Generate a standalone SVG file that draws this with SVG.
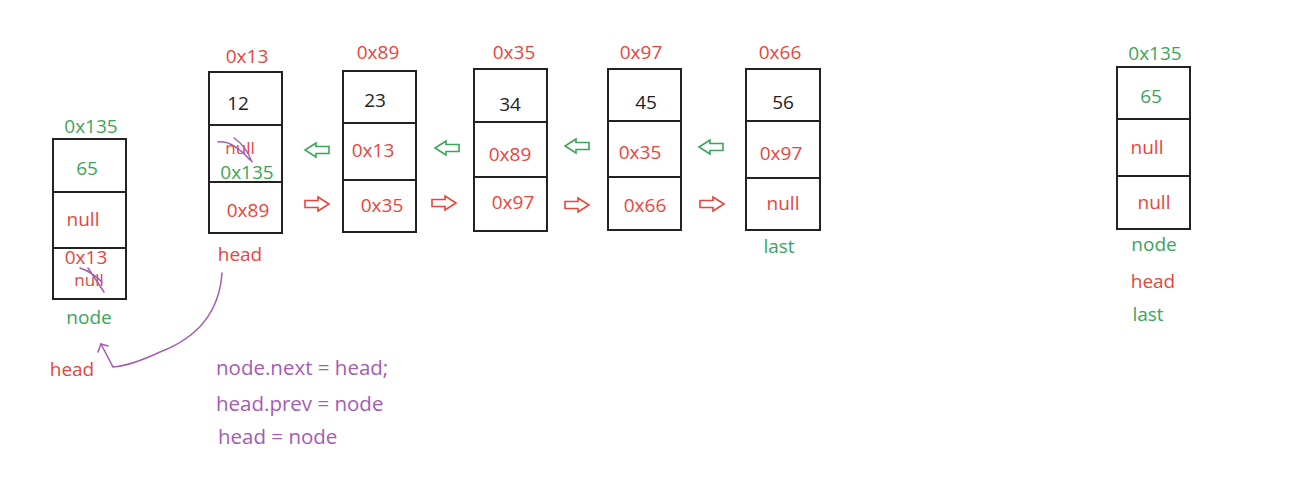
<svg xmlns="http://www.w3.org/2000/svg" width="1294" height="482" viewBox="0 0 1294 482">
<style>
text{font-family:"Open Sans","Noto Sans","Liberation Sans",sans-serif;font-size:19px;text-anchor:middle;dominant-baseline:central}
.box{fill:#fff;stroke:#222;stroke-width:2}
.div{stroke:#222;stroke-width:2}
.r{fill:#e8453c}.g{fill:#3aa55a}.k{fill:#222}.p{fill:#a45bb4;text-anchor:start;font-size:20.5px}
.sm{font-size:17px}
.ra{fill:none;stroke:#e8453c;stroke-width:1.6}
.ga{fill:none;stroke:#3aa55a;stroke-width:1.6}
.sc{fill:none;stroke:#a45bb4;stroke-width:1.5;stroke-linecap:round}
</style>
<defs>
<path id="rarrow" d="M-12,-3.5 H1 V-7 L12,0 L1,7 V3.5 H-12 Z"/>
<path id="larrow" d="M12,-3.5 H-1 V-7 L-12,0 L-1,7 V3.5 H12 Z"/>
</defs>
<g id="newnode">
<rect class="box" x="53" y="139" width="73" height="160"/>
<line class="div" x1="53" y1="192" x2="126" y2="192"/>
<line class="div" x1="53" y1="248" x2="126" y2="248"/>
<text class="g" x="91" y="126">0x135</text>
<text class="g" x="87" y="168">65</text>
<text class="r" x="83" y="219">null</text>
<text class="r sm" x="89" y="279">null</text>
<text class="r" x="86" y="257">0x13</text>
<path class="sc" d="M80,268 Q92,272 102,282 M88,268 L104,292"/>
<text class="g" x="89" y="317">node</text>
<text class="r" x="72" y="369">head</text>
</g>
<g id="n13">
<rect class="box" x="209" y="72" width="73" height="161"/>
<line class="div" x1="209" y1="125" x2="282" y2="125"/>
<line class="div" x1="209" y1="182" x2="282" y2="182"/>
<text class="r" x="247" y="56">0x13</text>
<text class="k" x="238" y="103">12</text>
<text class="r sm" x="240" y="147">null</text>
<path class="sc" d="M218,142 Q232,140 250,160 M234,138 Q246,146 252,162"/>
<text class="g" x="247" y="172">0x135</text>
<text class="r" x="248" y="210">0x89</text>
<text class="r" x="240" y="254">head</text>
</g>
<g id="n89">
<rect class="box" x="343" y="71" width="73" height="161"/>
<line class="div" x1="343" y1="123" x2="416" y2="123"/>
<line class="div" x1="343" y1="180" x2="416" y2="180"/>
<text class="r" x="378" y="52">0x89</text>
<text class="k" x="375" y="100">23</text>
<text class="r" x="373" y="150">0x13</text>
<text class="r" x="382" y="205">0x35</text>
</g>
<g id="n35">
<rect class="box" x="474" y="69" width="73" height="162"/>
<line class="div" x1="474" y1="122" x2="547" y2="122"/>
<line class="div" x1="474" y1="177" x2="547" y2="177"/>
<text class="r" x="514" y="52">0x35</text>
<text class="k" x="510" y="104">34</text>
<text class="r" x="510" y="154">0x89</text>
<text class="r" x="513" y="202">0x97</text>
</g>
<g id="n97">
<rect class="box" x="608" y="69" width="73" height="161"/>
<line class="div" x1="608" y1="121" x2="681" y2="121"/>
<line class="div" x1="608" y1="177" x2="681" y2="177"/>
<text class="r" x="641" y="52">0x97</text>
<text class="k" x="646" y="102">45</text>
<text class="r" x="640" y="152">0x35</text>
<text class="r" x="645" y="205">0x66</text>
</g>
<g id="n66">
<rect class="box" x="746" y="69" width="74" height="161"/>
<line class="div" x1="746" y1="121" x2="820" y2="121"/>
<line class="div" x1="746" y1="178" x2="820" y2="178"/>
<text class="r" x="780" y="52">0x66</text>
<text class="k" x="783" y="102">56</text>
<text class="r" x="781" y="153">0x97</text>
<text class="r" x="783" y="203">null</text>
<text class="g" x="779" y="246">last</text>
</g>
<g id="result">
<rect class="box" x="1117" y="67" width="73" height="162"/>
<line class="div" x1="1117" y1="119" x2="1190" y2="119"/>
<line class="div" x1="1117" y1="176" x2="1190" y2="176"/>
<text class="g" x="1155" y="53">0x135</text>
<text class="g" x="1151" y="96">65</text>
<text class="r" x="1147" y="147">null</text>
<text class="r" x="1154" y="202">null</text>
<text class="g" x="1154" y="244">node</text>
<text class="r" x="1153" y="281">head</text>
<text class="g" x="1148" y="314">last</text>
</g>
<g id="connectors">
<use href="#larrow" class="ga" x="317" y="150"/>
<use href="#larrow" class="ga" x="447" y="148"/>
<use href="#larrow" class="ga" x="577" y="146"/>
<use href="#larrow" class="ga" x="711" y="147"/>
<use href="#rarrow" class="ra" x="317" y="204"/>
<use href="#rarrow" class="ra" x="444" y="203"/>
<use href="#rarrow" class="ra" x="577" y="205"/>
<use href="#rarrow" class="ra" x="712" y="204"/>
<path class="sc" d="M222,273 Q218,330 160,352 Q130,366 113,367 L101,344"/>
<path class="sc" d="M98,352 L101,344 L108,346"/>
</g>
<g id="code">
<text class="p" x="216" y="367">node.next = head;</text>
<text class="p" x="216" y="403">head.prev = node</text>
<text class="p" x="218" y="436">head = node</text>
</g>
</svg>
